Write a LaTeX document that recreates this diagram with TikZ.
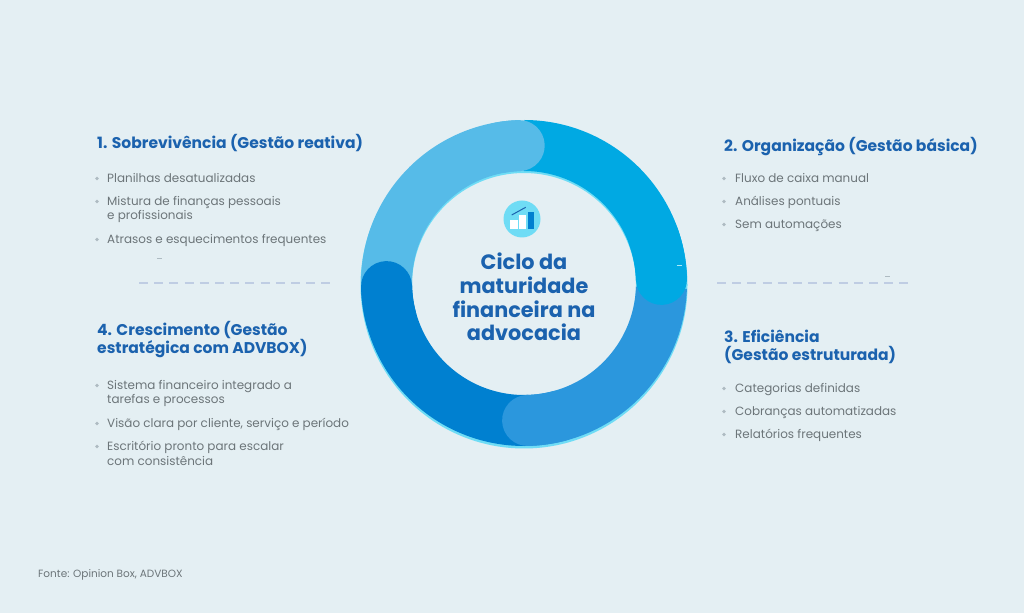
\documentclass[tikz,border=0pt]{standalone}
\usepackage{fontspec}
\setmainfont[BoldFont=Poppins Bold]{Poppins}
\definecolor{bgc}{HTML}{E4EFF3}
\definecolor{seglight}{HTML}{56BBE8}
\definecolor{segcyan}{HTML}{00A9E3}
\definecolor{segmid}{HTML}{2B97DD}
\definecolor{segdark}{HTML}{0080D0}
\definecolor{backc}{HTML}{6FDCF5}
\definecolor{titlec}{HTML}{1B62AE}
\definecolor{bodyc}{HTML}{6C7579}
\definecolor{bulletc}{HTML}{AEBBC2}
\definecolor{dashc}{HTML}{BFCDE3}
\tikzset{
  x=1pt,y=1pt,
  ttl/.style={anchor=base west,inner sep=0pt,text=titlec,font=\fontsize{15.55}{18}\selectfont\bfseries},
  bodytxt/.style={anchor=base west,inner sep=0pt,text=bodyc,font=\fontsize{11.95}{14}\selectfont},
  centertxt/.style={anchor=base,inner sep=0pt,text=titlec,font=\fontsize{20.8}{24}\selectfont\bfseries},
  dashline/.style={draw=dashc,line width=1.2pt,dash pattern=on 9pt off 6.2pt},
  speck/.style={draw=bulletc,line width=0.8pt},
  seg/.style={line width=51pt},
  bul/.style={circle,fill=bulletc,inner sep=0pt,minimum size=3.6pt}
}
\newcommand{\ringarc}[4]{\draw[seg,draw=#1,line cap=#4] ({524+137.5*cos(#2)},{330+137.5*sin(#2)}) arc[start angle=#2,end angle=#3,radius=137.5];}
\newcommand{\bitem}[3]{\node[bul] at (97,{613-#2+4}) {}; \node[bodytxt] (#1) at (107,{613-#2}) {#3};}
\newcommand{\bitemr}[3]{\node[bul] at (724,{613-#2+4}) {}; \node[bodytxt] (#1) at (735,{613-#2}) {#3};}
\begin{document}
\begin{tikzpicture}
\useasboundingbox (0,0) rectangle (1024,613);
\fill[bgc] (0,0) rectangle (1024,613);
% backing ring
\fill[backc,even odd rule] (524,328) circle[radius=163.5] (524,328) circle[radius=112];
% segments (cyclic overlap)
\ringarc{seglight}{183}{92}{butt}
\ringarc{segdark}{272}{181.5}{butt}
\ringarc{segdark}{195}{181.5}{round}
\ringarc{segmid}{358}{271.5}{butt}
\ringarc{segmid}{285}{271.5}{round}
\ringarc{segcyan}{90}{1.5}{butt}
\ringarc{segcyan}{20}{1.5}{round}
\ringarc{seglight}{100}{92}{round}
% icon
\fill[backc] (522,394) circle[radius=18.5];
\fill[white] (510,384) rectangle (517.5,393);
\fill[white] (518.5,384) rectangle (526,398);
\fill[segdark] (527.7,384) rectangle (534.3,401);
\draw[titlec,line width=1pt] (511.7,398) -- (525.7,405.7);
% centre
\node[centertxt] (c1) at (524,{613-270}) {Ciclo da};
\node[centertxt] (c2) at (524,{613-294}) {maturidade};
\node[centertxt] (c3) at (524,{613-318}) {financeira na};
\node[centertxt] (c4) at (524,{613-341}) {advocacia};
% block 1
\node[ttl] (t1) at (97,{613-148.5}) {1. Sobrevivência (Gestão reativa)};
\bitem{a1}{182.5}{Planilhas desatualizadas}
\bitem{a2}{205.5}{Mistura de finanças pessoais}
\node[bodytxt] (a2b) at (107,{613-219.5}) {e profissionais};
\bitem{a3}{243.5}{Atrasos e esquecimentos frequentes}
% block 2
\node[ttl] (t2) at (724,{613-151.5}) {2. Organização (Gestão básica)};
\bitemr{b1}{182.5}{Fluxo de caixa manual}
\bitemr{b2}{205.5}{Análises pontuais}
\bitemr{b3}{228.5}{Sem automações}
% block 3
\node[ttl] (t3) at (724,{613-342.5}) {3. Eficiência};
\node[ttl] (t3b) at (724,{613-360.5}) {(Gestão estruturada)};
\bitemr{d1}{392.5}{Categorias definidas}
\bitemr{d2}{415.5}{Cobranças automatizadas}
\bitemr{d3}{438.5}{Relatórios frequentes}
% block 4
\node[ttl] (t4) at (97,{613-336}) {4. Crescimento (Gestão};
\node[ttl] (t4b) at (97,{613-354}) {estratégica com ADVBOX)};
\bitem{e1}{389.5}{Sistema financeiro integrado a}
\node[bodytxt] (e1b) at (107,{613-403.5}) {tarefas e processos};
\bitem{e2}{427.5}{Visão clara por cliente, serviço e período}
\bitem{e3}{450.5}{Escritório pronto para escalar}
\node[bodytxt] (e3b) at (107,{613-465.5}) {com consistência};
% source
\node[anchor=base west,inner sep=0pt,text=bodyc,font=\fontsize{10.5}{12}\selectfont] (src) at (38,{613-577}) {Fonte: Opinion Box, ADVBOX};
% dashed rules
\draw[dashline] (139,{613-283}) -- (331,{613-283});
\draw[dashline] (717,{613-283}) -- (909,{613-283});
% specks
\draw[speck] (157,{613-258.5}) -- (162,{613-258.5});
\draw[speck] (885,{613-276.5}) -- (890,{613-276.5});
\draw[draw=backc!60!white,line width=0.7pt] (676.5,{613-265}) -- (681.5,{613-265});
\end{tikzpicture}
\end{document}
